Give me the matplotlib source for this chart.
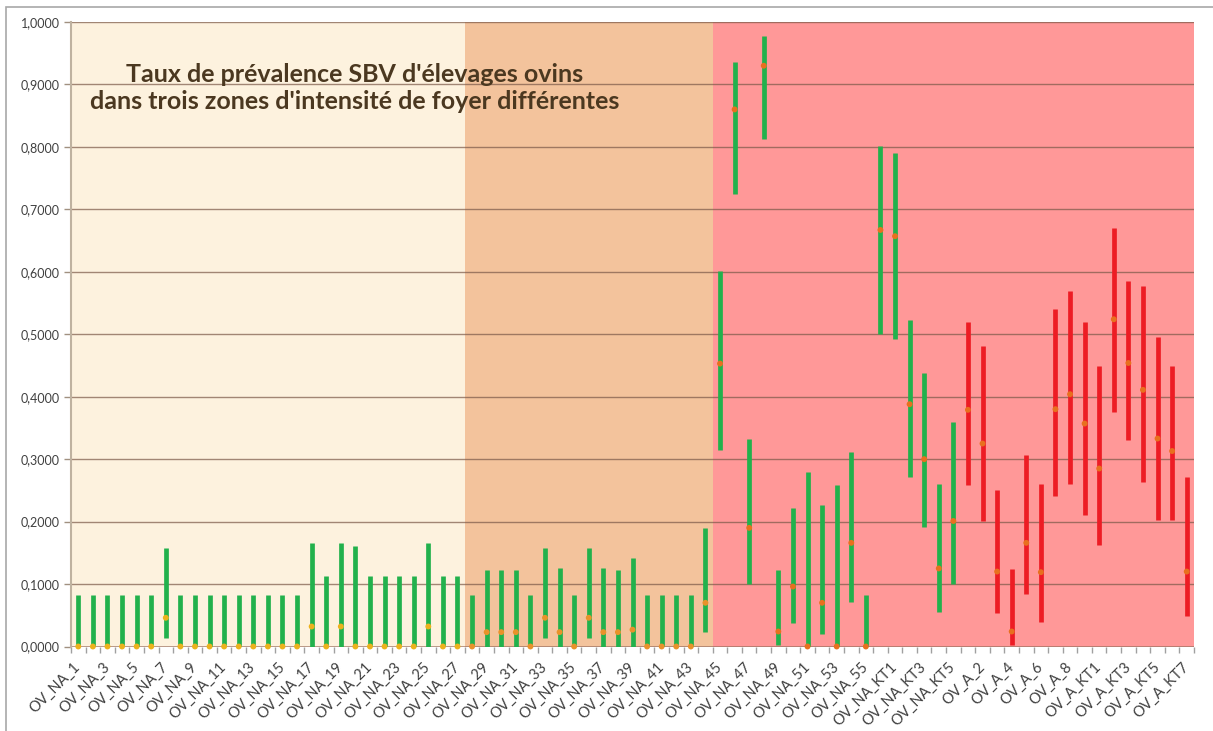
#!/usr/bin/env python3
"""Taux de prevalence SBV d'elevages ovins - intervalles par elevage."""

import numpy as np
import matplotlib.pyplot as plt
from matplotlib.patches import Rectangle
from matplotlib.ticker import FuncFormatter, MultipleLocator

# categories: elevages
categories = ([f"OV_NA_{i}" for i in range(1, 57)]
              + [f"OV_NA_KT{i}" for i in range(1, 6)]
              + [f"OV_A_{i}" for i in range(1, 10)]
              + [f"OV_A_KT{i}" for i in range(1, 8)])

# borne basse, taux estime, borne haute
low = [0, 0, 0, 0, 0, 0, 0.014, 0, 0, 0,
       0, 0, 0, 0, 0, 0, 0, 0, 0, 0,
       0, 0, 0, 0, 0, 0, 0, 0, 0, 0,
       0, 0, 0.014, 0, 0, 0.014, 0, 0, 0, 0,
       0, 0, 0, 0.024, 0.314, 0.724, 0.100, 0.812, 0.002, 0.038,
       0, 0.020, 0, 0.071, 0, 0.501, 0.492, 0.272, 0.192, 0.056,
       0.100, 0.259, 0.201, 0.054, 0.003, 0.084, 0.040, 0.241, 0.260, 0.210,
       0.162, 0.376, 0.331, 0.264, 0.202, 0.202, 0.049]

point = [0, 0, 0, 0, 0, 0, 0.046, 0, 0, 0,
         0, 0, 0, 0, 0, 0, 0.032, 0, 0.032, 0,
         0, 0, 0, 0, 0.032, 0, 0, 0, 0.023, 0.023,
         0.023, 0, 0.046, 0.023, 0, 0.046, 0.023, 0.023, 0.027, 0,
         0, 0, 0, 0.070, 0.453, 0.860, 0.190, 0.930, 0.024, 0.096,
         0, 0.070, 0, 0.166, 0, 0.667, 0.657, 0.388, 0.300, 0.125,
         0.201, 0.379, 0.325, 0.120, 0.024, 0.166, 0.119, 0.380, 0.404, 0.357,
         0.285, 0.524, 0.454, 0.411, 0.333, 0.313, 0.120]

high = [0.083, 0.083, 0.083, 0.083, 0.083, 0.083, 0.157, 0.083, 0.083, 0.083,
        0.083, 0.083, 0.083, 0.083, 0.083, 0.083, 0.166, 0.113, 0.166, 0.161,
        0.113, 0.113, 0.113, 0.113, 0.166, 0.113, 0.113, 0.083, 0.123, 0.123,
        0.123, 0.083, 0.157, 0.126, 0.083, 0.157, 0.126, 0.123, 0.141, 0.083,
        0.083, 0.083, 0.083, 0.190, 0.601, 0.936, 0.333, 0.978, 0.123, 0.221,
        0.279, 0.227, 0.259, 0.311, 0.083, 0.801, 0.791, 0.523, 0.438, 0.261,
        0.360, 0.519, 0.481, 0.250, 0.124, 0.306, 0.260, 0.540, 0.569, 0.520,
        0.449, 0.670, 0.585, 0.577, 0.496, 0.449, 0.272]

# three zones of outbreak intensity (first index of each zone)
zone_start = [0, 27, 44]
zone_colors = ['#FDF2DE', '#F3C39C', '#FF9898']
dot_colors = ['#ECB21C', '#E9922A', '#E8701E']

title = "Taux de prévalence SBV d'élevages ovins\ndans trois zones d'intensité de foyer différentes"

W, H = 1213, 731
fig = plt.figure(figsize=(W / 100, H / 100), dpi=100)
ax = fig.add_axes([71 / W, 1 - 646.5 / H, (1194 - 71) / W, (646.5 - 22) / H])

n = len(categories)
x = np.arange(n)
low = np.array(low)
point = np.array(point)
high = np.array(high)

# zone backgrounds
bounds = zone_start + [n]
zone_of = np.zeros(n, dtype=int)
for k in range(len(zone_start)):
    ax.axvspan(bounds[k] - 0.5, bounds[k + 1] - 0.5, color=zone_colors[k], zorder=0, lw=0)
    zone_of[bounds[k]:bounds[k + 1]] = k

for yv in np.arange(0.1, 1.01, 0.1):
    ax.axhline(yv, color='#7A5848', alpha=0.7, lw=1.0, zorder=1)
ax.axhline(0, color='#9A7060', alpha=0.8, lw=1.2, zorder=1)

bar_colors = ['#ED1C24' if c.startswith('OV_A_') else '#22B14C' for c in categories]
ax.vlines(x, low, high, colors=bar_colors, lw=3.4, capstyle='butt', zorder=3)
ax.scatter(x, point, s=18, c=[dot_colors[z] for z in zone_of], zorder=4, lw=0,
           clip_on=False)

ax.set_xlim(-0.5, n - 0.5)
ax.set_ylim(0, 1.0)

ax.yaxis.set_major_locator(MultipleLocator(0.1))
ax.yaxis.set_major_formatter(FuncFormatter(lambda v, p: f"{v:.4f}".replace('.', ',')))
ax.tick_params(axis='y', length=5, width=1, color='#A09080', labelsize=9,
               labelcolor='#404040', pad=3)
for lab in ax.get_yticklabels():
    lab.set_family('Lato')

ax.set_xticks(x[::2])
ax.set_xticklabels(categories[::2], rotation=45, ha='right', va='center',
                   rotation_mode='anchor', fontsize=10.5, color='#404040', family='Lato')
ax.tick_params(axis='x', which='major', length=0, pad=13)
ax.set_xticks(np.arange(-0.5, n, 1.0), minor=True)
ax.tick_params(axis='x', which='minor', length=4, width=1, color='#A0A0A0')

for s in ['top', 'right', 'bottom']:
    ax.spines[s].set_visible(False)
ax.spines['left'].set_color('#BFB2A0')
ax.spines['left'].set_linewidth(1.5)

fig.text(355 / W, 1 - 88 / H, title, ha='center', va='center', fontsize=18,
         fontweight='bold', family='Lato', color='#4B3820', linespacing=1.25)

fig.patches.append(Rectangle((6 / W, -0.1), 1.2, 1.1 - 7 / H, transform=fig.transFigure,
                             fill=False, edgecolor='#A8A8A8', lw=1.2))

fig.savefig('out.png', dpi=100)
